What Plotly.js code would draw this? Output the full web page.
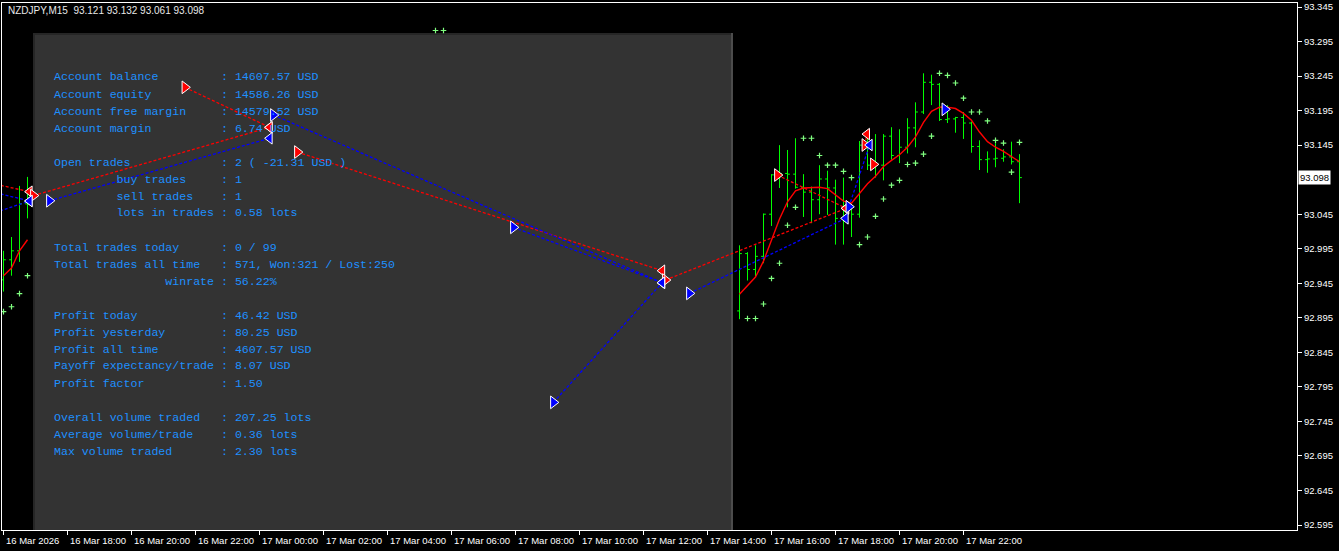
<!DOCTYPE html>
<html><head><meta charset="utf-8">
<script src="https://cdn.plot.ly/plotly-3.0.1.min.js"></script>
<style>html,body{margin:0;padding:0;background:#000;}#chart{width:1339px;height:551px;}</style>
</head><body><div id="chart"></div>
<script>
// ---------- DATA ----------
const symbolTitle = 'NZDJPY,M15  93.121 93.132 93.061 93.098';
const currentPrice = 93.098;

const barTimes = [
 '2026-03-16 16:00','2026-03-16 16:15','2026-03-16 16:30','2026-03-16 16:45',
 '2026-03-17 15:00','2026-03-17 15:15','2026-03-17 15:30','2026-03-17 15:45',
 '2026-03-17 16:00','2026-03-17 16:15','2026-03-17 16:30','2026-03-17 16:45',
 '2026-03-17 17:00','2026-03-17 17:15','2026-03-17 17:30','2026-03-17 17:45',
 '2026-03-17 18:00','2026-03-17 18:15','2026-03-17 18:30','2026-03-17 18:45',
 '2026-03-17 19:00','2026-03-17 19:15','2026-03-17 19:30','2026-03-17 19:45',
 '2026-03-17 20:00','2026-03-17 20:15','2026-03-17 20:30','2026-03-17 20:45',
 '2026-03-17 21:00','2026-03-17 21:15','2026-03-17 21:30','2026-03-17 21:45',
 '2026-03-17 22:00','2026-03-17 22:15','2026-03-17 22:30','2026-03-17 22:45',
 '2026-03-17 23:00','2026-03-17 23:15','2026-03-17 23:30','2026-03-17 23:45'
];
const barOpen  = [92.950,92.979,92.992,93.060, 92.905,92.988,92.965,92.984,93.045,93.102,93.104,93.103,93.084,93.077,93.066,93.096,93.083,93.039,93.055,93.045,93.145,93.116,93.116,93.158,93.130,93.142,93.170,93.193,93.236,93.233,93.182,93.183,93.185,93.177,93.143,93.124,93.125,93.126,93.128,93.121];
const barHigh  = [92.992,93.012,93.086,93.099, 93.000,92.990,93.000,93.046,93.103,93.145,93.138,93.155,93.103,93.085,93.116,93.108,93.095,93.098,93.055,93.151,93.167,93.161,93.161,93.171,93.168,93.184,93.207,93.249,93.247,93.235,93.203,93.186,93.193,93.179,93.152,93.136,93.148,93.139,93.150,93.132];
const barLow   = [92.933,92.956,92.976,93.039, 92.893,92.949,92.955,92.974,93.028,93.083,93.055,93.082,93.041,93.032,93.045,93.044,93.001,93.001,93.012,93.040,93.109,93.098,93.094,93.124,93.119,93.133,93.142,93.190,93.203,93.180,93.177,93.163,93.154,93.134,93.109,93.105,93.113,93.121,93.117,93.061];
const barClose = [92.979,92.992,93.060,93.080, 92.988,92.965,92.984,93.045,93.102,93.104,93.103,93.084,93.077,93.066,93.096,93.083,93.039,93.056,93.045,93.145,93.116,93.116,93.158,93.130,93.142,93.170,93.193,93.236,93.233,93.182,93.183,93.185,93.177,93.143,93.124,93.125,93.126,93.128,93.121,93.098];
const maValues = [92.956,92.967,92.992,93.008, 92.929,92.941,92.954,92.977,93.008,93.038,93.063,93.079,93.083,93.084,93.084,93.082,93.073,93.064,93.061,93.075,93.089,93.100,93.114,93.123,93.131,93.142,93.157,93.178,93.194,93.200,93.200,93.198,93.191,93.181,93.164,93.150,93.142,93.136,93.129,93.121];

const sarTimes = [
 '2026-03-16 16:00','2026-03-16 16:15','2026-03-16 16:30','2026-03-16 16:45',
 '2026-03-17 05:30','2026-03-17 05:45',
 '2026-03-17 15:15','2026-03-17 15:30','2026-03-17 15:45','2026-03-17 16:00','2026-03-17 16:15','2026-03-17 16:30','2026-03-17 16:45',
 '2026-03-17 17:00','2026-03-17 17:15','2026-03-17 17:30','2026-03-17 17:45','2026-03-17 18:00','2026-03-17 18:15','2026-03-17 18:30','2026-03-17 18:45',
 '2026-03-17 19:00','2026-03-17 19:15','2026-03-17 19:30','2026-03-17 19:45','2026-03-17 20:00','2026-03-17 20:15','2026-03-17 20:30','2026-03-17 20:45',
 '2026-03-17 21:00','2026-03-17 21:15','2026-03-17 21:30','2026-03-17 21:45','2026-03-17 22:00','2026-03-17 22:15','2026-03-17 22:30','2026-03-17 22:45',
 '2026-03-17 23:00','2026-03-17 23:15','2026-03-17 23:30','2026-03-17 23:45'
];
const sarValues = [92.904,92.911,92.930,92.956, 93.311,93.311,
 92.894,92.894,92.915,92.952,92.974,93.029,93.055,
 93.155,93.155,93.130,93.116,93.116,93.107,93.098,93.001,
 93.012,93.042,93.067,93.087,93.094,93.117,93.119,93.132,
 93.158,93.249,93.246,93.235,93.213,93.193,93.193,93.180,
 93.152,93.148,93.106,93.149];

// trades: side, open time/price, close time/price (null = still open)
const tradeSide       = ['sell','sell','buy','buy','sell','buy','buy','sell','buy','sell','buy','sell','sell','buy','sell','buy','buy'];
const tradeOpenTime   = ['2026-03-16 21:40','2026-03-16 16:56','2026-03-16 17:26','2026-03-17 00:26','2026-03-17 01:11','2026-03-17 07:56','2026-03-17 09:11','2026-03-17 12:41','2026-03-17 13:26','2026-03-17 16:11','2026-03-17 18:25','2026-03-17 18:55','2026-03-17 19:11','2026-03-17 21:25','2026-03-16 15:00','2026-03-16 15:00','2026-03-16 15:00'];
const tradeOpenPrice  = [93.2287,93.0720,93.0645,93.1886,93.1350,93.0260,92.7726,92.9497,92.9304,93.1017,93.0558,93.1452,93.1172,93.1969,93.0960,93.0847,93.0361];
const tradeCloseTime  = ['2026-03-17 00:19','2026-03-17 00:19','2026-03-17 00:19','2026-03-17 12:35','2026-03-17 12:35','2026-03-17 12:35','2026-03-17 12:35','2026-03-17 18:20','2026-03-17 18:19','2026-03-17 18:20','2026-03-17 19:04','2026-03-17 18:59',null,null,'2026-03-16 16:49','2026-03-16 16:49','2026-03-16 16:49'];
const tradeClosePrice = [93.1708,93.1708,93.1549,92.9458,92.9632,92.9458,92.9458,93.0535,93.0390,93.0535,93.1452,93.1610,null,null,93.0776,93.0641,93.0641];

const priceTicks = [93.345,93.295,93.245,93.195,93.145,93.045,92.995,92.945,92.895,92.845,92.795,92.745,92.695,92.645,92.595];
const timeTicks = ['2026-03-16 16:00','2026-03-16 18:00','2026-03-16 20:00','2026-03-16 22:00','2026-03-17 00:00','2026-03-17 02:00','2026-03-17 04:00','2026-03-17 06:00','2026-03-17 08:00','2026-03-17 10:00','2026-03-17 12:00','2026-03-17 14:00','2026-03-17 16:00','2026-03-17 18:00','2026-03-17 20:00','2026-03-17 22:00'];
const timeTickLabels = ['16 Mar 2026','16 Mar 18:00','16 Mar 20:00','16 Mar 22:00','17 Mar 00:00','17 Mar 02:00','17 Mar 04:00','17 Mar 06:00','17 Mar 08:00','17 Mar 10:00','17 Mar 12:00','17 Mar 14:00','17 Mar 16:00','17 Mar 18:00','17 Mar 20:00','17 Mar 22:00'];

const panelLabels = ['Account balance','Account equity','Account free margin','Account margin','',
 'Open trades','         buy trades','         sell trades','         lots in trades','',
 'Total trades today','Total trades all time','                winrate','',
 'Profit today','Profit yesterday','Profit all time','Payoff expectancy/trade','Profit factor','',
 'Overall volume traded','Average volume/trade','Max volume traded'];
const panelValues = ['14607.57 USD','14586.26 USD','14579.52 USD','6.74 USD','',
 '2 ( -21.31 USD )','1','1','0.58 lots','',
 '0 / 99','571, Won:321 / Lost:250','56.22%','',
 '46.42 USD','80.25 USD','4607.57 USD','8.07 USD','1.50','',
 '207.25 lots','0.36 lots','2.30 lots'];

// ---------- LAYOUT HELPERS ----------
const PL = 2, PR = 1297, PT = 3, PB = 530;
const W = PR - PL, H = PB - PT;
const px = v => (v - PL) / W;
const py = v => (PB - v) / H;
const nb = s => s.replace(/ /g, '\u00A0');
const tms = s => new Date(s.replace(' ', 'T') + ':00Z').getTime();

// MA line with break across missing bars
const maX = [], maY = [];
for (let i = 0; i < barTimes.length; i++) {
  if (i > 0 && tms(barTimes[i]) - tms(barTimes[i-1]) > 15*60000) { maX.push(null); maY.push(null); }
  maX.push(barTimes[i]); maY.push(maValues[i]);
}

function tradeLines(side) {
  const x = [], y = [];
  tradeSide.forEach((s, i) => {
    if (s !== side || tradeCloseTime[i] === null) return;
    x.push(tradeOpenTime[i], tradeCloseTime[i], null);
    y.push(tradeOpenPrice[i], tradeClosePrice[i], null);
  });
  return {x, y};
}
const firstVisible = tms('2026-03-16 15:58');
function openArrows(side) {
  const x = [], y = [];
  tradeSide.forEach((s, i) => { if (s === side && tms(tradeOpenTime[i]) >= firstVisible) { x.push(tradeOpenTime[i]); y.push(tradeOpenPrice[i]); } });
  return {x, y};
}
function closeArrows(side) {
  const x = [], y = [];
  tradeSide.forEach((s, i) => { if (s === side && tradeCloseTime[i] !== null) { x.push(tradeCloseTime[i]); y.push(tradeClosePrice[i]); } });
  return {x, y};
}

const GREEN = '#00ff00', RED = '#ff0000', BLUE = '#0000ff';
const traces = [];
traces.push({type:'ohlc', x:barTimes, open:barOpen, high:barHigh, low:barLow, close:barClose,
  increasing:{line:{color:GREEN, width:1}}, decreasing:{line:{color:GREEN, width:1}}, tickwidth:0.3, hoverinfo:'skip', showlegend:false});
traces.push({type:'scatter', mode:'lines', x:maX, y:maY, line:{color:RED, width:1.4}, connectgaps:false, hoverinfo:'skip', showlegend:false});
traces.push({type:'scatter', mode:'markers', x:sarTimes, y:sarValues, marker:{symbol:'cross-thin', size:4, color:'#80ff80', line:{color:'#80ff80', width:1.2}}, hoverinfo:'skip', showlegend:false});
['sell','buy'].forEach(side => {
  const l = tradeLines(side);
  traces.push({type:'scatter', mode:'lines', x:l.x, y:l.y, line:{color: side==='sell'?RED:BLUE, width:1.3, dash:'3px,2px'}, hoverinfo:'skip', showlegend:false});
});
['sell','buy'].forEach(side => {
  const c = closeArrows(side);
  traces.push({type:'scatter', mode:'markers', x:c.x, y:c.y, marker:{symbol:'triangle-left', size:10, color: side==='sell'?RED:BLUE, line:{color:'#ffffff', width:1}}, hoverinfo:'skip', showlegend:false});
  const o = openArrows(side);
  traces.push({type:'scatter', mode:'markers', x:o.x, y:o.y, marker:{symbol:'triangle-right', size:11, color: side==='sell'?RED:BLUE, line:{color:'#ffffff', width:1}}, hoverinfo:'skip', showlegend:false});
});

// ---------- ANNOTATIONS ----------
const ann = [];
ann.push({xref:'paper', yref:'paper', x:px(6), y:py(10), xanchor:'left', yanchor:'middle', showarrow:false,
  text:nb(symbolTitle), font:{family:'Liberation Sans, Arial, sans-serif', size:10, color:'#e8e8e8'}});
timeTicks.forEach((t, i) => ann.push({xref:'x', yref:'paper', x:t, y:0, xanchor:'left', yanchor:'top', yshift:-3, xshift:0, showarrow:false,
  text:timeTickLabels[i], font:{family:'Liberation Sans, Arial, sans-serif', size:9.5, color:'#ffffff'}}));
ann.push({xref:'paper', yref:'y', x:1, y:currentPrice, xanchor:'left', yanchor:'middle', xshift:1, showarrow:false,
  text:currentPrice.toFixed(3), bgcolor:'#ffffff', borderpad:1, font:{family:'Liberation Sans, Arial, sans-serif', size:9.5, color:'#000000'}});
panelLabels.forEach((lab, k) => {
  if (!lab) return;
  const txt = lab.padEnd(24, ' ') + ': ' + panelValues[k];
  ann.push({xref:'paper', yref:'paper', x:px(52), y:py(77 + 17*k), xanchor:'left', yanchor:'middle', showarrow:false,
    text:nb(txt), font:{family:'Liberation Mono, Courier New, monospace', size:11.6, color:'#1e90ff'}});
});

// ---------- SHAPES ----------
const shapes = [
  {type:'rect', xref:'paper', yref:'paper', x0:px(33), x1:px(733), y0:0, y1:py(33), fillcolor:'#333333', line:{width:0}, layer:'below'},
  {type:'line', xref:'paper', yref:'paper', x0:px(33), x1:px(733), y0:py(34), y1:py(34), line:{color:'#262626', width:2}, layer:'below'},
  {type:'line', xref:'paper', yref:'paper', x0:px(34), x1:px(34), y0:0, y1:py(33), line:{color:'#262626', width:2}, layer:'below'},
  {type:'line', xref:'paper', yref:'paper', x0:px(732), x1:px(732), y0:0, y1:py(33), line:{color:'#4c4c4c', width:2}, layer:'below'}
];

const layout = {
  width:1339, height:551,
  margin:{l:PL, r:1339-PR, t:PT, b:551-PB, pad:0},
  paper_bgcolor:'#000000', plot_bgcolor:'#000000',
  showlegend:false,
  xaxis:{type:'date', range:['2026-03-16 15:57:11','2026-03-18 08:25:19'], showgrid:false, zeroline:false,
    showline:true, linecolor:'#ffffff', linewidth:1, mirror:true,
    ticks:'outside', ticklen:4, tickcolor:'#ffffff', tickwidth:1, tickmode:'array', tickvals:timeTicks, showticklabels:false,
    rangeslider:{visible:false}, fixedrange:true},
  yaxis:{side:'right', range:[92.5878, 93.3508], showgrid:false, zeroline:false,
    showline:true, linecolor:'#ffffff', linewidth:1, mirror:true,
    ticks:'outside', ticklen:4, tickcolor:'#ffffff', tickwidth:1,
    tickmode:'array', tickvals:priceTicks, ticktext:priceTicks.map(v => v.toFixed(3)),
    tickfont:{family:'Liberation Sans, Arial, sans-serif', size:9.5, color:'#ffffff'}, fixedrange:true},
  shapes:shapes,
  annotations:ann
};

Plotly.newPlot('chart', traces, layout, {displayModeBar:false, staticPlot:true});
</script></body></html>
